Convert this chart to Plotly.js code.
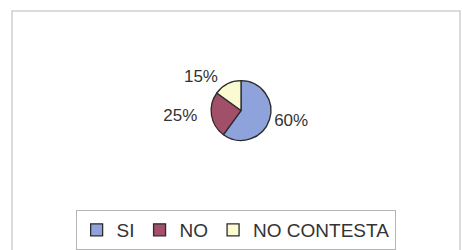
<!DOCTYPE html>
<html><head><meta charset="utf-8">
<script src="https://cdn.plot.ly/plotly-3.0.1.min.js"></script>
<style>html,body{margin:0;padding:0;background:#fff}#chart{width:462px;height:250px}</style>
</head><body><div id="chart"></div>
<script>
const categories = ["SI", "NO", "NO CONTESTA"];
const values = [60, 25, 15];
const colors = ["#8ea2dc", "#a24f6a", "#fbfbd2"];

const W = 462, H = 250;
const cx = 241, cy = 111, r = 30;

const data = [{
  type: "pie",
  labels: categories,
  values: values,
  sort: false,
  direction: "clockwise",
  rotation: 0,
  marker: {colors: colors, line: {color: "#2a2a2a", width: 1.3}},
  texttemplate: ["%{value}%", "%{value}%\u00a0\u00a0", "%{value}%\u00a0"],
  textposition: "outside",
  textfont: {family: "Liberation Sans, Arial, sans-serif", size: 17, color: "#333"},
  outsidetextfont: {family: "Liberation Sans, Arial, sans-serif", size: 17, color: "#333"},
  hoverinfo: "none",
  domain: {x: [(cx - r) / W, (cx + r) / W], y: [(H - cy - r) / H, (H - cy + r) / H]}
}];

const layout = {
  width: W, height: H,
  margin: {l: 0, r: 0, t: 0, b: 0},
  paper_bgcolor: "#fff",
  showlegend: true,
  legend: {
    orientation: "h",
    x: 0.51, xanchor: "center",
    y: (H - 211) / H, yanchor: "top",
    font: {family: "Liberation Sans, Arial, sans-serif", size: 19, color: "#333"},
    bordercolor: "#b5b5b5", borderwidth: 1,
    itemclick: false
  },
  shapes: [{
    type: "rect", xref: "paper", yref: "paper",
    x0: 12 / W, x1: 460 / W, y0: -0.02, y1: (H - 11) / H,
    line: {color: "#cfcfcf", width: 1.5}
  }]
};

Plotly.newPlot("chart", data, layout, {displayModeBar: false, staticPlot: true});
</script></body></html>
